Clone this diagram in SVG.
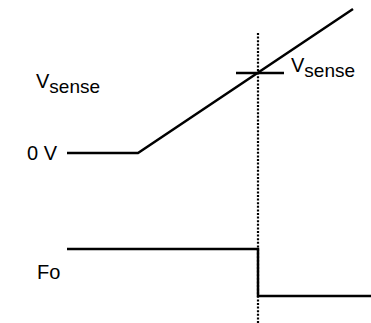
<svg xmlns="http://www.w3.org/2000/svg" width="371" height="323" viewBox="0 0 371 323">
<style>
.t{font-family:"Liberation Sans",Arial,sans-serif;font-size:20px;fill:#000}
.w{fill:none;stroke:#000;stroke-width:2.5}
.d{fill:none;stroke:#000;stroke-width:2.2;stroke-dasharray:2 1.6}
</style>
<rect width="371" height="323" fill="#fff"/>
<g id="connectors">
<line class="d" x1="258" y1="33" x2="258" y2="323"/>
<polyline class="w" points="67,153 138,153 353,9"/>
<line class="w" x1="236" y1="73" x2="284" y2="73" stroke-width="1.5"/>
<polyline class="w" points="67,249 258,249 258,296 371,296"/>
</g>
<g id="label-vsense-left"><text class="t" x="36" y="88">V<tspan dy="5" font-size="19">sense</tspan></text></g>
<g id="label-0v"><text class="t" x="27" y="160">0 V</text></g>
<g id="label-vsense-right"><text class="t" x="291" y="72">V<tspan dy="5" font-size="19">sense</tspan></text></g>
<g id="label-fo"><text class="t" x="37" y="279">Fo</text></g>
</svg>
